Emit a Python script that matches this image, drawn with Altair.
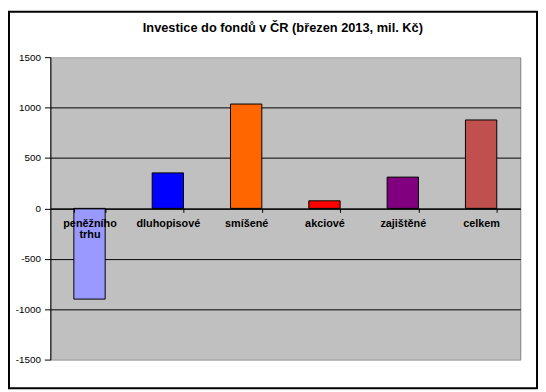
import altair as alt
import pandas as pd

categories = ["peněžního trhu", "dluhopisové", "smíšené", "akciové", "zajištěné", "celkem"]
values = [-900, 352, 1035, 75, 310, 877]
colors = ["#9999FF", "#0000FF", "#FF6600", "#FF0000", "#800080", "#C0504D"]
y_ticks = [-1500, -1000, -500, 0, 500, 1000, 1500]
title_text = "Investice do fondů v ČR (březen 2013, mil. Kč)"

df = pd.DataFrame({"kategorie": categories, "hodnota": values})

W, H = 477, 307
PL, PT, PR, PB = 43, 47, 18, 30
FONT = "Liberation Sans"

bars = alt.Chart(df).mark_bar(stroke="black", strokeWidth=1).encode(
    x=alt.X(
        "kategorie:N",
        sort=categories,
        scale=alt.Scale(paddingInner=0.6, paddingOuter=0.3),
        axis=alt.Axis(
            title=None,
            orient="bottom",
            offset=-153.5,
            domainColor="black",
            domainWidth=1,
            tickColor="black",
            tickSize=4,
            tickBand="extent",
            labelAngle=0,
            labelFont=FONT,
            labelFontSize=11,
            labelFontWeight="bold",
            labelColor="black",
            labelPadding=5,
            labelLineHeight=12,
            labelExpr="datum.value == 'peněžního trhu' ? ['peněžního', 'trhu'] : datum.label",
            grid=False,
            zindex=2,
        ),
    ),
    y=alt.Y(
        "hodnota:Q",
        scale=alt.Scale(domain=[-1500, 1500], nice=False, zero=False),
        axis=alt.Axis(
            title=None,
            values=y_ticks,
            labelExpr="'' + datum.value",
            domainColor="black",
            tickColor="black",
            tickSize=6,
            labelFont=FONT,
            labelFontSize=10,
            labelColor="black",
            labelPadding=4,
            grid=True,
            gridColor={"condition": {"test": "abs(datum.value) == 1500", "value": "#C0C0C0"}, "value": "black"},
            gridOpacity=1,
            zindex=0,
        ),
    ),
    color=alt.Color("kategorie:N", scale=alt.Scale(domain=categories, range=colors), legend=None),
)

one = pd.DataFrame({"t": [title_text]})

frame = alt.Chart(one).mark_rect(
    fill=None, stroke="black", strokeWidth=2, clip=False
).encode(
    x=alt.value(-PL + 1),
    x2=alt.value(W + PR - 1),
    y=alt.value(-PT + 1),
    y2=alt.value(H + PB - 1),
)

title = alt.Chart(one).mark_text(
    font=FONT, fontSize=13, fontWeight="bold", color="black",
    align="center", baseline="alphabetic", clip=False,
).encode(
    text="t:N",
    x=alt.value(236),
    y=alt.value(-25.5),
)

chart = alt.layer(bars, frame, title).properties(
    width=W,
    height=H,
    padding={"left": PL, "top": PT, "right": PR, "bottom": PB},
    autosize=alt.AutoSizeParams(type="none"),
    background="white",
).configure_view(fill="#C0C0C0", stroke="#808080", strokeWidth=1)

chart.save("out.html", embed_options={"renderer": "svg", "actions": False})
